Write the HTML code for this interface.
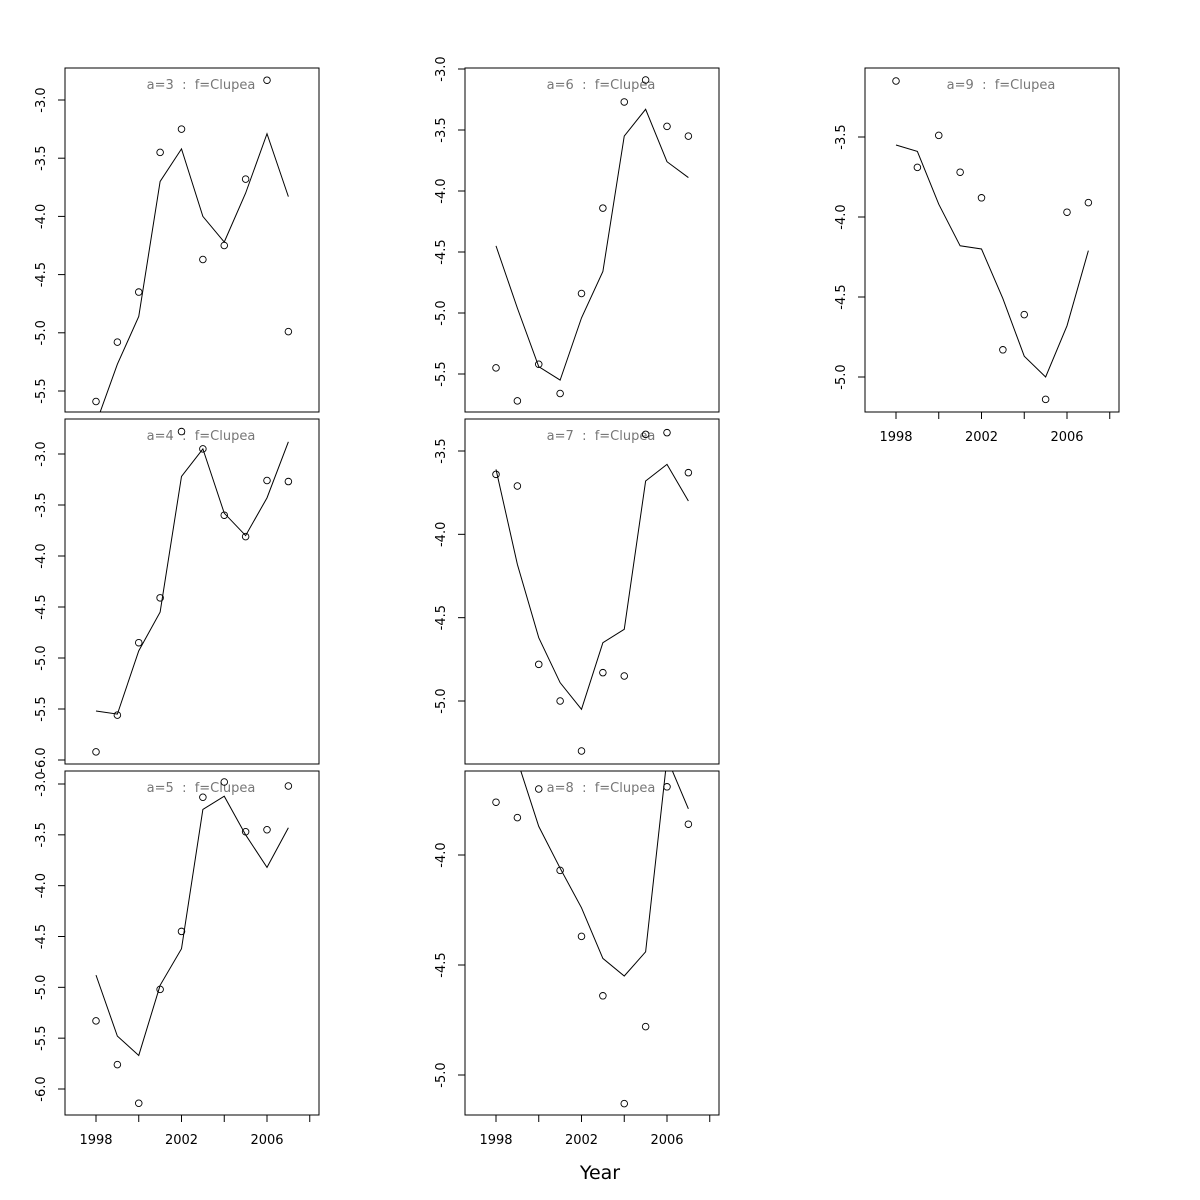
<!DOCTYPE html>
<html><head><meta charset="utf-8"><style>
body{margin:0;background:#fff;overflow:hidden}
svg{display:block}
svg text{font-family:"DejaVu Sans","Liberation Sans",sans-serif}
</style></head><body>
<svg id="c" width="1200" height="1200" xmlns="http://www.w3.org/2000/svg"></svg>
<script>
const years=[1998,1999,2000,2001,2002,2003,2004,2005,2006,2007];
const xTicks=[1998,2000,2002,2004,2006,2008];
const xTickLabels=["1998","","2002","","2006",""];
const ages=[3,6,9,4,7,5,8];
const obs3=[-5.59,-5.08,-4.65,-3.45,-3.25,-4.37,-4.25,-3.68,-2.83,-4.99];
const fit3=[-5.78,-5.27,-4.86,-3.70,-3.42,-4.00,-4.22,-3.80,-3.29,-3.83];
const obs4=[-5.92,-5.56,-4.85,-4.41,-2.78,-2.95,-3.60,-3.81,-3.26,-3.27];
const fit4=[-5.52,-5.55,-4.93,-4.55,-3.22,-2.95,-3.58,-3.80,-3.43,-2.88];
const obs5=[-5.33,-5.76,-6.14,-5.02,-4.45,-3.13,-2.98,-3.47,-3.45,-3.02];
const fit5=[-4.88,-5.48,-5.67,-4.98,-4.62,-3.25,-3.12,-3.50,-3.82,-3.43];
const obs6=[-5.45,-5.72,-5.42,-5.66,-4.84,-4.14,-3.27,-3.09,-3.47,-3.55];
const fit6=[-4.45,-4.96,-5.44,-5.55,-5.04,-4.66,-3.55,-3.33,-3.76,-3.89];
const obs7=[-3.64,-3.71,-4.78,-5.00,-5.30,-4.83,-4.85,-3.40,-3.39,-3.63];
const fit7=[-3.61,-4.18,-4.62,-4.89,-5.05,-4.65,-4.57,-3.68,-3.58,-3.80];
const obs8=[-3.76,-3.83,-3.70,-4.07,-4.37,-4.64,-5.13,-4.78,-3.69,-3.86];
const fit8=[-3.25,-3.57,-3.87,-4.06,-4.24,-4.47,-4.55,-4.44,-3.56,-3.79];
const obs9=[-3.15,-3.69,-3.49,-3.72,-3.88,-4.83,-4.61,-5.14,-3.97,-3.91];
const fit9=[-3.55,-3.59,-3.92,-4.18,-4.20,-4.51,-4.87,-5.00,-4.68,-4.21];
const ticks3=[-3.0,-3.5,-4.0,-4.5,-5.0,-5.5];
const ticks4=[-3.0,-3.5,-4.0,-4.5,-5.0,-5.5,-6.0];
const ticks5=[-3.0,-3.5,-4.0,-4.5,-5.0,-5.5,-6.0];
const ticks6=[-3.0,-3.5,-4.0,-4.5,-5.0,-5.5];
const ticks7=[-3.5,-4.0,-4.5,-5.0];
const ticks8=[-4.0,-4.5,-5.0];
const ticks9=[-3.5,-4.0,-4.5,-5.0];
const panels=[
 [3,65,68,412,-3.0,100,-5.5,391,obs3,fit3,ticks3,false],
 [4,65,419,764,-3.0,454,-6.0,760,obs4,fit4,ticks4,false],
 [5,65,771,1115,-3.0,784,-6.0,1089,obs5,fit5,ticks5,true],
 [6,465,68,412,-3.0,69,-5.5,374,obs6,fit6,ticks6,false],
 [7,465,419,764,-3.5,451,-5.0,701,obs7,fit7,ticks7,false],
 [8,465,771,1115,-4.0,855,-5.0,1075,obs8,fit8,ticks8,true],
 [9,865,68,412,-3.5,137,-5.0,377,obs9,fit9,ticks9,true]
];
const NS="http://www.w3.org/2000/svg";
const svg=document.getElementById('c');
function mk(t,a,p){const e=document.createElementNS(NS,t);for(const k in a)e.setAttribute(k,a[k]);(p||svg).appendChild(e);return e;}
const defs=mk('defs',{});
panels.forEach((P,i)=>{
 const [age,L,T,B,v0,p0,v1,p1,obs,fit,yt,showX]=P;
 const W=254;
 const xs=yr=>L+31+(yr-1998)*21.375;
 const ys=v=>p0+(v-v0)*(p1-p0)/(v1-v0);
 const g=mk('g',{});
 
 
 const cp=mk('clipPath',{id:'cp'+i},defs);
 mk('rect',{x:L,y:T,width:W,height:B-T},cp);
 const box=mk('rect',{x:L,y:T,width:W,height:B-T,fill:'none',stroke:'#000','stroke-width':1},g);
 
 
 const title=mk('text',{x:L+136,y:T+21,'font-size':13,fill:'#777','text-anchor':'middle','xml:space':'preserve',style:'white-space:pre'},g);
 title.textContent='a='+age+'  :  f=Clupea';
 
 
 yt.forEach(v=>{
  const y=ys(v);
  mk('line',{x1:L-7,x2:L,y1:y,y2:y,stroke:'#000'},g);
  const t=mk('text',{x:0,y:0,'font-size':13,'text-anchor':'middle',transform:`translate(${L-20},${y}) rotate(-90)`},g);
  t.textContent=v.toFixed(1);
  
  
 });
 if(showX){
  mk('line',{x1:xs(1998),x2:xs(2008),y1:B,y2:B,stroke:'#000'},g);
  xTicks.forEach((yr,j)=>{
   const x=xs(yr);
   mk('line',{x1:x,x2:x,y1:B,y2:B+7,stroke:'#000'},g);
   if(xTickLabels[j]){
    const t=mk('text',{x:x,y:B+29,'font-size':13,'text-anchor':'middle'},g);
    t.textContent=xTickLabels[j];
    
    
   }
  });
 }
 const cg=mk('g',{'clip-path':`url(#cp${i})`},g);
 const line=mk('polyline',{points:fit.map((v,j)=>xs(years[j])+','+ys(v)).join(' '),fill:'none',stroke:'#000','stroke-width':1},cg);
 
 
 obs.forEach((v,j)=>{
  const c=mk('circle',{cx:xs(years[j]),cy:ys(v),r:3.3,fill:'none',stroke:'#000','stroke-width':0.9},g);
  
  
 });
});
const xl=mk('text',{x:600,y:1179,'font-size':19,'text-anchor':'middle'});
xl.textContent='Year';


</script>
</body></html>
